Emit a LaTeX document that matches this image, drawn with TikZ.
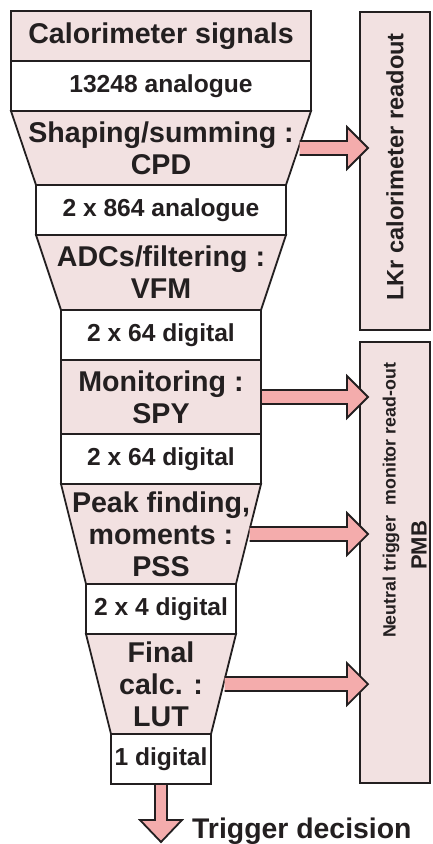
\documentclass[tikz,border=0pt]{standalone}
\usepackage{fontspec}
\setmainfont{Liberation Sans}
\usetikzlibrary{positioning,shapes.geometric,calc}
\definecolor{boxpink}{RGB}{242,225,225}
\definecolor{arrowpink}{RGB}{244,172,172}
\definecolor{edge}{RGB}{35,31,32}
\newcommand{\sidearrow}[2]{%
  \draw[blockarrow] ($(#1)+(1,-7)$) -- ($(#1 -| #2.west)+(-13,-7)$) -- ($(#1 -| #2.west)+(-13,-21)$)
    -- ($(#1 -| #2.west)+(8,0)$) -- ($(#1 -| #2.west)+(-13,21)$) -- ($(#1 -| #2.west)+(-13,7)$) -- ($(#1)+(1,7)$);}
\begin{document}
\begin{tikzpicture}[x=1pt,y=-1pt,
    box/.style={draw=edge,line width=1.8pt,inner sep=0pt,outer sep=0pt,text=edge},
    stage/.style={box,fill=boxpink,align=center,font=\bfseries\fontsize{28.6}{32}\selectfont},
    stagetext/.style={draw=none,fill=none,inner sep=0pt,align=center,text=edge,font=\bfseries\fontsize{28.6}{32}\selectfont},
    count/.style={box,fill=white,minimum height=50pt,font=\bfseries\fontsize{24.6}{28}\selectfont},
    funnel/.style={box,fill=boxpink,trapezium,shape border rotate=180},
    readout/.style={box,fill=boxpink,minimum width=70pt},
    sidetext/.style={inner sep=0pt,rotate=90,text=edge,font=\bfseries\fontsize{23.6}{27}\selectfont},
    blockarrow/.style={draw=edge,fill=arrowpink,line width=1.8pt,line join=miter}
    ]
  \useasboundingbox (0,0) rectangle (432,844);
  \node[stage, minimum width=300pt, minimum height=50pt] (sig) at (161,36) {Calorimeter signals};
  \node[count, minimum width=300pt, below=0pt of sig] (n13248) {13248 analogue};
  \node[funnel, inner xsep=125pt, inner ysep=37pt, trapezium angle=71.33, below=0pt of n13248,
    label={[stagetext]center:{Shaping/summing :\\CPD}}] (cpd) {};
  \node[count, minimum width=250pt, below=0pt of cpd] (n864) {2 x 864 analogue};
  \node[funnel, inner xsep=100pt, inner ysep=37.5pt, trapezium angle=71.57, below=0pt of n864,
    label={[stagetext]center:{ADCs/filtering :\\VFM}}] (vfm) {};
  \node[count, minimum width=200pt, below=0pt of vfm] (n64a) {2 x 64 digital};
  \node[stage, minimum width=200pt, minimum height=74pt, below=0pt of n64a] (spy) {Monitoring :\\SPY};
  \node[count, minimum width=200pt, below=0pt of spy] (n64b) {2 x 64 digital};
  \node[funnel, inner xsep=75pt, inner ysep=50pt, trapezium angle=75.96, below=0pt of n64b,
    label={[stagetext]center:{Peak finding,\\moments :\\PSS}}] (pss) {};
  \node[count, minimum width=150pt, below=0pt of pss] (n4) {2 x 4 digital};
  \node[funnel, inner xsep=50pt, inner ysep=50pt, trapezium angle=75.96, below=0pt of n4,
    label={[stagetext]center:{Final\\calc. :\\LUT}}] (lut) {};
  \node[count, minimum width=100pt, below=0pt of lut] (out) {1 digital};

  \node[readout, minimum height=318pt] (lkr) at (395,171) {};
  \node[sidetext] (lkrtext) at ($(lkr.center)+(0,-4)$) {LKr calorimeter readout};
  \node[readout, minimum height=441pt] (pmb) at (395,562.5) {};
  \node[sidetext, font=\bfseries\fontsize{17.8}{21}\selectfont] (pmbtext) at ($(pmb.center)+(-4,-62)$) {Neutral trigger\ \ monitor read-out};
  \node[sidetext, font=\bfseries\fontsize{22}{26}\selectfont] (pmbname) at ($(pmb.center)+(24,-17)$) {PMB};

  \sidearrow{cpd.east}{lkr}
  \sidearrow{spy.east}{pmb}
  \sidearrow{pss.east}{pmb}
  \sidearrow{lut.east}{pmb}
  \draw[blockarrow] ($(out.south)+(-6,1)$) -- ($(out.south)+(-6,36)$) -- ($(out.south)+(-21,36)$)
    -- ($(out.south)+(0,58)$) coordinate (decision) -- ($(out.south)+(21,36)$) -- ($(out.south)+(6,36)$) -- ($(out.south)+(6,1)$);
  \node[anchor=base west, inner sep=0pt, text=edge, font=\bfseries\fontsize{28.4}{32}\selectfont] (decisiontext) at ($(decision)+(31,-4)$) {Trigger decision};
\end{tikzpicture}
\end{document}
